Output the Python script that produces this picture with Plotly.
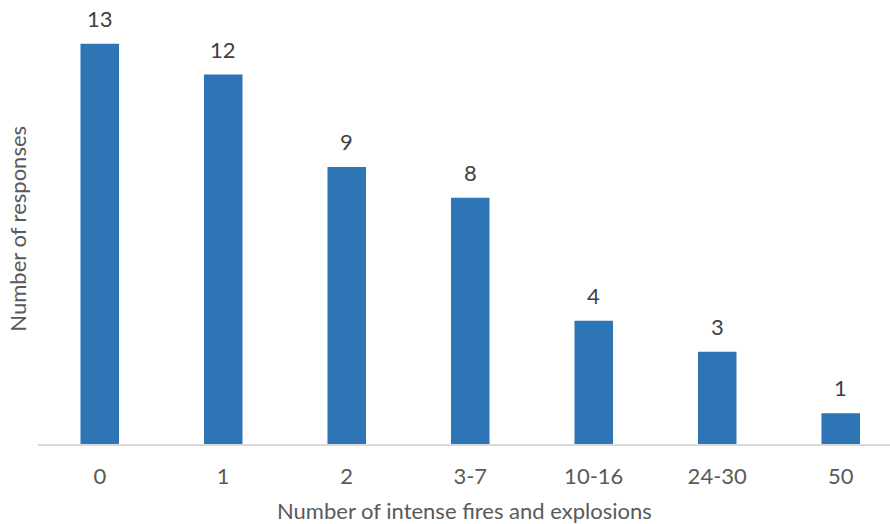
import plotly.graph_objects as go

categories = ["0", "1", "2", "3-7", "10-16", "24-30", "50"]
responses = [13, 12, 9, 8, 4, 3, 1]

FONT = "Lato"
SIZE = 22

fig = go.Figure()
fig.add_trace(go.Bar(
    x=categories,
    y=responses,
    marker=dict(color="#2E75B6", line=dict(width=0)),
    width=0.312,
    cliponaxis=False,
    hoverinfo="skip",
))

# category index (annotation x on a category axis; numeric-looking names would be misread)
for i, v in enumerate(responses):
    fig.add_annotation(
        x=i, y=v, xref="x", yref="y",
        text=str(v), showarrow=False,
        yanchor="bottom", yshift=10,
        font=dict(family=FONT, size=SIZE, color="#404040"),
    )

fig.add_annotation(
    x=0.5, y=-0.155, xref="paper", yref="paper",
    text="Number of intense fires and explosions", showarrow=False,
    xanchor="center", yanchor="middle",
    font=dict(family=FONT, size=SIZE, color="#595959"),
)
fig.add_annotation(
    x=-0.0245, y=0.5, xref="paper", yref="paper",
    text="Number of responses", showarrow=False, textangle=-90,
    xanchor="center", yanchor="middle",
    font=dict(family=FONT, size=SIZE, color="#595959"),
)

fig.update_layout(
    width=890,
    height=524,
    margin=dict(l=38, r=0, t=13, b=80),
    paper_bgcolor="white",
    plot_bgcolor="white",
    showlegend=False,
    font=dict(family=FONT, size=SIZE, color="#595959"),
    xaxis=dict(
        type="category",
        range=[-0.5, 6.399],
        automargin=False,
        showline=True,
        linecolor="#D9D9D9",
        linewidth=2,
        ticks="",
        showgrid=False,
        ticklabelstandoff=12,
        tickfont=dict(family=FONT, size=SIZE, color="#595959"),
    ),
    yaxis=dict(
        range=[0, 14],
        automargin=False,
        showticklabels=False,
        showgrid=False,
        zeroline=False,
        showline=False,
        ticks="",
    ),
)

fig.write_html(
    "out.html",
    config={"displayModeBar": False},
    post_script="document.body.style.margin='0';document.body.style.overflow='hidden';",
)
